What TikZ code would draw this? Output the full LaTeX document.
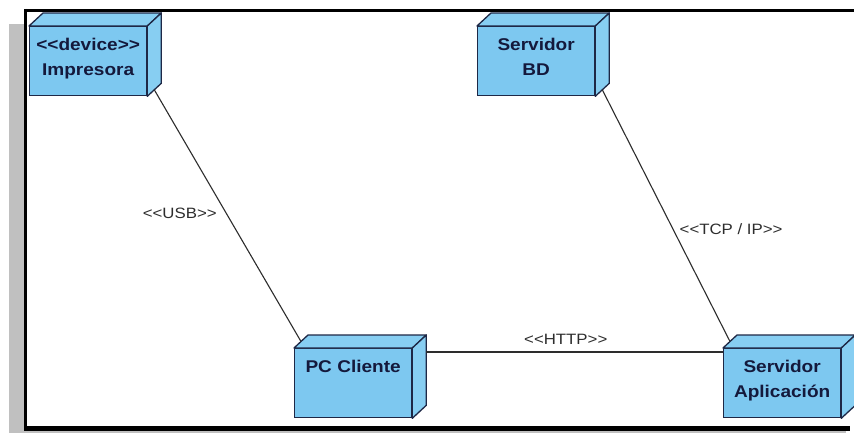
\documentclass[tikz,border=0pt]{standalone}
\usepackage{fontspec}
\newfontfamily\labfont[FakeStretch=1.12]{Liberation Sans}
\usetikzlibrary{calc}

\definecolor{nodefill}{RGB}{125,200,240}
\definecolor{nodetop}{RGB}{135,206,242}
\definecolor{nodeedge}{RGB}{30,40,70}
\definecolor{nodetext}{RGB}{20,25,60}
\definecolor{framegray}{RGB}{192,192,192}
\definecolor{linkgray}{RGB}{45,45,45}

% lines of a node caption, hanging from the baseline of the first one
\newcommand\devtext[1]{\begin{tabular}[t]{@{}c@{}}#1\end{tabular}}

\tikzset{
  devbox/.style={draw=nodeedge, fill=nodefill, line width=1.3pt, anchor=north west,
    minimum width=117pt, minimum height=69pt, inner xsep=0pt, inner ysep=0pt,
    text height=24pt, text depth=45pt, text=nodetext,
    font=\labfont\bfseries\fontsize{17}{25}\selectfont},
  face/.style={draw=nodeedge, fill=nodetop, line width=1.3pt, line join=round},
  link/.style={draw=linkgray, line width=1.1pt},
  linklabel/.style={text=linkgray, inner sep=1pt,
    font=\labfont\fontsize{15}{16}\selectfont}
}

% top and right faces of a 3D node box
\newcommand\nodefaces[1]{%
  \path[face] (#1.north west) -- ++(14,-13) -- ($(#1.north east)+(14,-13)$)
    -- (#1.north east) -- cycle;
  \path[face] (#1.north east) -- ++(14,-13) -- ($(#1.south east)+(14,-13)$)
    -- (#1.south east) -- cycle;
}

\begin{document}
\begin{tikzpicture}[x=1pt, y=-1pt]
  \useasboundingbox (0,0) rectangle (854,433);
  \fill[white] (0,0) rectangle (854,433);

  % window frame with its shadow
  \fill[framegray] (9,24) rectangle (24,433);
  \fill[framegray] (24,431) rectangle (846,433);
  \draw[line width=3pt] (24,10.5) -- (854,10.5);
  \draw[line width=3pt] (25.5,9) -- (25.5,430);
  \draw[line width=4.5pt] (24,428.5) -- (850,428.5);

  % nodes
  \node[devbox] (imp) at (29,26) {\devtext{<<device>>\\Impresora}};
  \node[devbox] (bd)  at (477,26) {\devtext{Servidor\\BD}};
  \node[devbox] (pc)  at (294,348) {\devtext{PC Cliente}};
  \node[devbox] (app) at (723,348) {\devtext{Servidor\\Aplicación}};
  \nodefaces{imp}
  \nodefaces{bd}
  \nodefaces{pc}
  \nodefaces{app}

  % connectors
  \draw[link] ($(imp.south east)+(7,-6.5)$) -- ($(pc.north west)+(7,-6.5)$)
    node[pos=0.49, linklabel, left=8pt] (usb) {<<USB>>};
  \draw[link] ($(bd.south east)+(7,-6.5)$) -- ($(app.north west)+(7,-6.5)$)
    node[pos=0.555, linklabel, right=5pt] (tcp) {<<TCP / IP>>};
  \draw[link] ($(pc.north east)+(14,4)$) -- ($(app.north west)+(0,4)$)
    node[pos=0.47, linklabel, above=6pt] (http) {<<HTTP>>};
\end{tikzpicture}
\end{document}
